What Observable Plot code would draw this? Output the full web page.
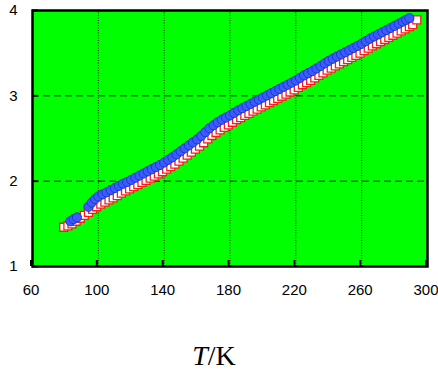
<!DOCTYPE html>
<html><head><meta charset="utf-8">
<script src="https://cdn.jsdelivr.net/npm/d3@7"></script>
<script src="https://cdn.jsdelivr.net/npm/@observablehq/plot@0.6"></script>
<style>
body{margin:0;background:#fff;}
#chart{position:relative;width:438px;height:378px;}
#xlabel{position:absolute;left:0;width:428px;top:340px;text-align:center;font-family:"Liberation Serif","Times New Roman",serif;font-size:28px;color:#000;}
</style></head>
<body><div id="chart"><div id="xlabel"><i>T</i>/K</div></div>
<script>
const xTicks = [60, 100, 140, 180, 220, 260, 300];
const yTicks = [1, 2, 3, 4];
const xGrid = [100, 140, 180, 220, 260];
const yGrid = [2, 3];

const circleT = [83,85,87,94,96,98,100,102.5,105,107.5,110,112.5,115,117.5,120,122.5,125,127.5,130,132.5,135,137.5,140,142.5,145,147.5,150,152.5,155,157.5,160,162.5,165,167.5,170,172.5,175,177.5,180,182.5,185,187.5,190,192.5,195,197.5,200,202.5,205,207.5,210,212.5,215,217.5,220,222.5,225,227.5,230,232.5,235,237.5,240,242.5,245,247.5,250,252.5,255,257.5,260,262.5,265,267.5,270,272.5,275,277.5,280,282.5,285,287,289];
const circleV = [1.53,1.555,1.575,1.70,1.75,1.79,1.82,1.845,1.87,1.895,1.92,1.945,1.97,1.99,2.015,2.04,2.065,2.09,2.115,2.14,2.165,2.19,2.22,2.25,2.28,2.315,2.35,2.385,2.42,2.455,2.49,2.53,2.575,2.62,2.655,2.69,2.72,2.745,2.77,2.80,2.83,2.855,2.88,2.905,2.93,2.955,2.98,3.005,3.03,3.055,3.08,3.105,3.13,3.155,3.18,3.21,3.24,3.265,3.29,3.32,3.35,3.38,3.41,3.435,3.46,3.485,3.51,3.535,3.56,3.585,3.61,3.64,3.67,3.695,3.72,3.745,3.77,3.795,3.82,3.845,3.87,3.89,3.91];

const squareT = [79,81.5,84,86.5,89,91.5,94,96.5,99,101.5,104,106.5,109,111.5,114,116.5,119,121.5,124,126.5,129,131.5,134,136.5,139,141.5,144,146.5,149,151.5,154,156.5,159,161.5,164,166.5,169,171.5,174,176.5,179,181.5,184,186.5,189,191.5,194,196.5,199,201.5,204,206.5,209,211.5,214,216.5,219,221.5,224,226.5,229,231.5,234,236.5,239,241.5,244,246.5,249,251.5,254,256.5,259,261.5,264,266.5,269,271.5,274,276.5,279,281.5,284,286.5,289,291,293.5];
const squareV = [1.46,1.475,1.50,1.53,1.565,1.60,1.635,1.67,1.70,1.73,1.755,1.78,1.805,1.83,1.86,1.885,1.91,1.935,1.96,1.985,2.01,2.035,2.06,2.085,2.11,2.14,2.17,2.20,2.235,2.27,2.305,2.34,2.375,2.41,2.45,2.495,2.535,2.57,2.60,2.63,2.66,2.69,2.72,2.745,2.77,2.795,2.82,2.845,2.87,2.895,2.92,2.945,2.97,2.995,3.02,3.045,3.07,3.10,3.13,3.155,3.18,3.21,3.24,3.27,3.30,3.325,3.35,3.375,3.40,3.425,3.45,3.475,3.50,3.53,3.56,3.585,3.61,3.635,3.66,3.685,3.71,3.735,3.76,3.785,3.81,3.835,3.89];

const circles = circleT.map((t, i) => ({t, v: circleV[i]}));
const squares = squareT.map((t, i) => ({t, v: squareV[i]}));

const plot = Plot.plot({
  width: 438,
  height: 310,
  marginLeft: 32,
  marginRight: 11,
  marginTop: 10,
  marginBottom: 44,
  style: {fontFamily: "'Liberation Sans', Arial, sans-serif", fontSize: "15px", background: "transparent", color: "#000"},
  x: {domain: [60, 300]},
  y: {domain: [1, 4]},
  marks: [
    Plot.frame({fill: "#00ff00", stroke: null}),
    Plot.ruleX(xGrid, {stroke: "#000", strokeWidth: 1, strokeDasharray: "1,1.5", strokeOpacity: 0.9}),
    Plot.ruleY(yGrid, {stroke: "#000", strokeWidth: 1, strokeDasharray: "7,4", strokeOpacity: 0.9}),
    Plot.axisX({ticks: xTicks, tickSize: -6, tickPadding: 24, strokeWidth: 2, label: null, dx: -1.5, tickFormat: d => String(d)}),
    Plot.axisY({ticks: yTicks, tickSize: -6, tickPadding: 21, strokeWidth: 2, label: null, tickFormat: d => String(d)}),
    Plot.dot(squares, {x: "t", y: "v", symbol: "square", r: 4.5, fill: "#fff", stroke: "#ff1a1a", strokeWidth: 1.3}),
    Plot.dot(circles, {x: "t", y: "v", symbol: "circle", r: 4.6, fill: "#3a5cff", stroke: "#1f35c8", strokeWidth: 1}),
    Plot.frame({stroke: "#000", strokeWidth: 2.5})
  ]
});
document.getElementById("chart").prepend(plot);
</script>
</body></html>
